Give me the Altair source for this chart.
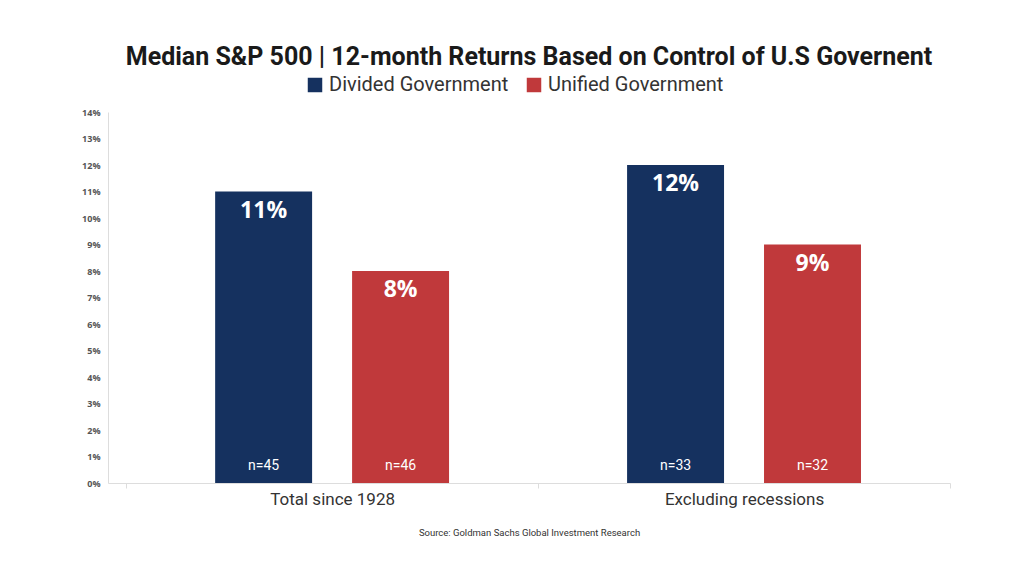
import altair as alt
import pandas as pd

groups = ["Total since 1928", "Total since 1928", "Excluding recessions", "Excluding recessions"]
governments = ["Divided Government", "Unified Government", "Divided Government", "Unified Government"]
returns = [0.11, 0.08, 0.12, 0.09]
counts = ["n=45", "n=46", "n=33", "n=32"]
y_ticks = [0.0, 0.01, 0.02, 0.03, 0.04, 0.05, 0.06, 0.07, 0.08, 0.09, 0.10, 0.11, 0.12, 0.13, 0.14]

df = pd.DataFrame({
    "group": groups,
    "gov": governments,
    "ret": returns,
    "label": [f"{round(v * 100)}%" for v in returns],
    "n": counts,
    "zero": [0.0, 0.0, 0.0, 0.0],
})

group_order = ["Total since 1928", "Excluding recessions"]
gov_order = ["Divided Government", "Unified Government"]

x_enc = alt.X(
    "group:N",
    sort=group_order,
    scale=alt.Scale(paddingInner=0, paddingOuter=0.022, align=1),
    axis=alt.Axis(
        title="Source: Goldman Sachs Global Investment Research",
        titleFontSize=9.5,
        titleFontWeight="normal",
        titleColor="#333333",
        titleFont="Roboto",
        titlePadding=20,
        labelAngle=0,
        labelFontSize=17,
        labelFont="Roboto",
        labelColor="#333333",
        labelPadding=3,
        domainColor="#dddddd",
        tickColor="#dddddd",
        tickBand="extent",
        tickSize=5,
    ),
)
xoff_enc = alt.XOffset("gov:N", sort=gov_order, scale=alt.Scale(paddingInner=0.292, paddingOuter=0.65))
y_axis = alt.Axis(
    title=None,
    values=y_ticks,
    format=".0%",
    labelOverlap=False,
    labelFontSize=9,
    labelFontWeight="bold",
    labelFont="Open Sans",
    labelColor="#555555",
    labelPadding=8,
    ticks=False,
    grid=False,
    domainColor="#dddddd",
)
y_scale = alt.Scale(domain=[0, 0.14], nice=False)

color_enc = alt.Color(
    "gov:N",
    sort=gov_order,
    scale=alt.Scale(domain=gov_order, range=["#15315F", "#C0393B"]),
    legend=alt.Legend(
        title=None,
        orient="none",
        direction="horizontal",
        legendX=197,
        legendY=-37,
        symbolType="square",
        symbolSize=210,
        symbolStrokeWidth=0,
        symbolOpacity=1,
        labelFontSize=20,
        labelFont="Roboto",
        labelColor="#333333",
        labelOffset=4,
        labelLimit=0,
        columnPadding=15,
    ),
)

base = alt.Chart(df)

bars = base.mark_bar(opacity=1).encode(
    x=x_enc, xOffset=xoff_enc, y=alt.Y("ret:Q", scale=y_scale, axis=y_axis), color=color_enc
)

top_labels = base.mark_text(
    baseline="top", dy=8, fontSize=23, fontWeight="bold", color="white", font="Open Sans"
).encode(x=x_enc, xOffset=xoff_enc, y=alt.Y("ret:Q", scale=y_scale, axis=y_axis), text="label:N")

n_labels = base.mark_text(
    baseline="bottom", dy=-10, fontSize=14, color="white", font="Roboto"
).encode(x=x_enc, xOffset=xoff_enc, y=alt.Y("zero:Q", scale=y_scale, axis=y_axis), text="n:N")

chart = (
    alt.layer(bars, top_labels, n_labels)
    .properties(
        width=842,
        height=371,
        background="white",
        title=alt.TitleParams(
            "Median S&P 500  |  12-month Returns Based on Control of U.S Governent",
            fontSize=25,
            font="Roboto",
            fontWeight="bold",
            color="#1a1a1a",
            anchor="middle",
            offset=5,
        ),
        autosize=alt.AutoSizeParams(type="none"),
        padding={"left": 100, "top": 104, "right": 50, "bottom": 70},
    )
    .configure_view(strokeWidth=0, stroke="transparent")
)

chart.save("out.html", embed_options={"renderer": "svg", "actions": False})
